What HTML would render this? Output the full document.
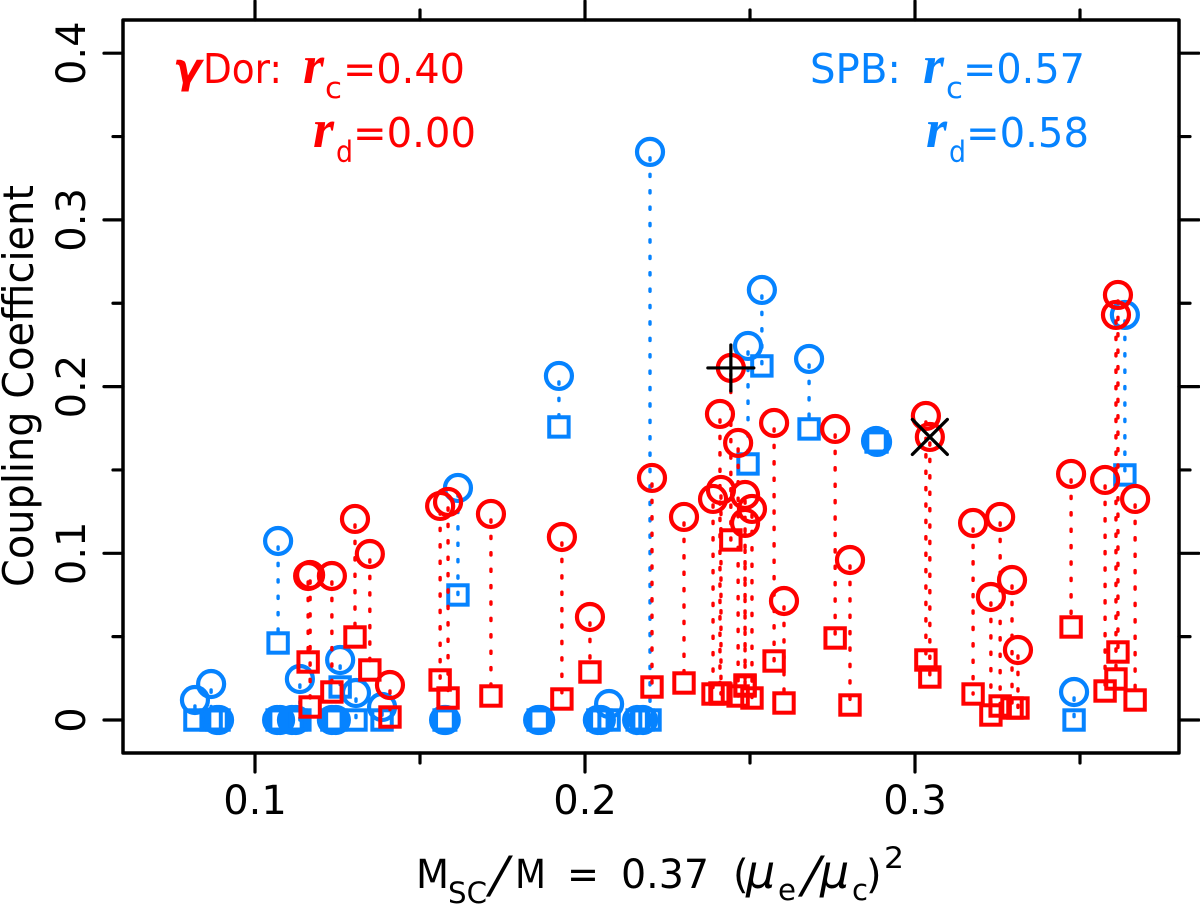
<!DOCTYPE html>
<html>
<head>
<meta charset="utf-8">
<title>Coupling Coefficient chart</title>
<style>
html,body{margin:0;padding:0;background:#fff;width:1200px;height:905px;overflow:hidden}
svg{display:block}
text{font-family:"DejaVu Sans","Liberation Sans",sans-serif}
.k{fill:#000;font-size:40px}
.r{fill:#ff0000;font-size:41px}
.b{fill:#0683ff;font-size:41px}
.s{font-size:29px}
.i{font-family:"Liberation Serif","DejaVu Serif",serif;font-style:italic;font-weight:bold;font-size:54px}
.m{font-style:italic;font-size:46px}
.g{font-style:italic;font-weight:bold;font-size:42px}
.sl{font-size:50px}
</style>
</head>
<body>
<svg id="chart" width="1200" height="905" viewBox="0 0 1200 905" xmlns="http://www.w3.org/2000/svg">
  <g id="ticks"></g>
  <g id="marks"></g>
  <rect x="123" y="20" width="1056" height="733" fill="none" stroke="#000" stroke-width="3.5" stroke-linejoin="round"/>
  <g id="labels"></g>

  <g>
    <text class="k" style="font-size:42px" transform="translate(33,587) rotate(-90)" textLength="402" lengthAdjust="spacingAndGlyphs">Coupling Coefficient</text>
  </g>

  <g>
    <text class="k" x="416" y="888" textLength="33" lengthAdjust="spacingAndGlyphs">M</text>
    <text class="k s" x="448" y="903" textLength="39" lengthAdjust="spacingAndGlyphs">SC</text>
    <text class="k sl" transform="translate(487,892) skewX(-14)">/</text>
    <text class="k" x="515" y="888" textLength="31" lengthAdjust="spacingAndGlyphs">M</text>
    <text class="k" x="567" y="888" textLength="32" lengthAdjust="spacingAndGlyphs">=</text>
    <text class="k" x="621" y="888" textLength="88" lengthAdjust="spacingAndGlyphs">0.37</text>
    <text class="k" x="733" y="888">(</text>
    <text class="k m" x="746" y="888">μ</text>
    <text class="k s" x="778" y="900" textLength="18" lengthAdjust="spacingAndGlyphs">e</text>
    <text class="k sl" transform="translate(799,892) skewX(-14)">/</text>
    <text class="k m" x="820" y="888">μ</text>
    <text class="k s" x="852" y="900" textLength="16" lengthAdjust="spacingAndGlyphs">c</text>
    <text class="k" x="866" y="888">)</text>
    <text class="k s" x="884" y="868" textLength="20" lengthAdjust="spacingAndGlyphs">2</text>
  </g>

  <g>
    <text class="r g" x="173" y="83">γ</text>
    <text class="r" x="203" y="83" textLength="79" lengthAdjust="spacingAndGlyphs">Dor:</text>
    <text class="r i" x="303" y="83">r</text>
    <text class="r s" x="325" y="98" textLength="17" lengthAdjust="spacingAndGlyphs">c</text>
    <text class="r" x="343" y="83" textLength="122" lengthAdjust="spacingAndGlyphs">=0.40</text>
    <text class="r i" x="313" y="147">r</text>
    <text class="r s" x="336" y="162" textLength="17" lengthAdjust="spacingAndGlyphs">d</text>
    <text class="r" x="353" y="147" textLength="123" lengthAdjust="spacingAndGlyphs">=0.00</text>
  </g>

  <g>
    <text class="b" x="810" y="83" textLength="91" lengthAdjust="spacingAndGlyphs">SPB:</text>
    <text class="b i" x="923" y="83">r</text>
    <text class="b s" x="946" y="98" textLength="17" lengthAdjust="spacingAndGlyphs">c</text>
    <text class="b" x="963" y="83" textLength="122" lengthAdjust="spacingAndGlyphs">=0.57</text>
    <text class="b i" x="926" y="147">r</text>
    <text class="b s" x="949" y="162" textLength="17" lengthAdjust="spacingAndGlyphs">d</text>
    <text class="b" x="966" y="147" textLength="123" lengthAdjust="spacingAndGlyphs">=0.58</text>
  </g>
</svg>
<script>
// x-axis value (M_SC/M), circle value (r_c), square value (r_d)
const redX = [0.1161,0.1167,0.1233,0.1303,0.1348,0.1409,0.1561,0.1585,0.1715,0.193,0.2015,0.2203,0.23,0.2388,0.2409,0.2412,0.2442,0.2464,0.2485,0.2506,0.2485,0.2573,0.2603,0.2758,0.2803,0.3033,0.3045,0.3176,0.3258,0.323,0.3294,0.3312,0.3473,0.3576,0.3615,0.3609,0.3667];
const redCircle = [0.0864,0.087,0.0864,0.1206,0.0996,0.021,0.1284,0.1308,0.1236,0.1098,0.0618,0.1452,0.1218,0.1326,0.1836,0.138,0.2112,0.1662,0.135,0.1266,0.1182,0.1782,0.0714,0.1746,0.096,0.1824,0.1698,0.1182,0.1218,0.0738,0.084,0.042,0.1476,0.144,0.255,0.243,0.1326];
const redSquare = [0.0348,0.0078,0.0168,0.0498,0.03,0.0018,0.024,0.0132,0.0144,0.0126,0.0288,0.0198,0.0222,0.0156,0.0162,0.0156,0.108,0.0144,0.0204,0.0132,0.021,0.0354,0.0102,0.0492,0.009,0.036,0.0258,0.0156,0.0084,0.003,0.0072,0.0072,0.0558,0.0174,0.0408,0.0246,0.012];

const blueX = [0.0818,0.0867,0.0885,0.0891,0.107,0.1067,0.1076,0.1112,0.1136,0.1124,0.1233,0.1245,0.1258,0.1306,0.1385,0.1573,0.1578,0.1615,0.1858,0.1864,0.1921,0.2039,0.2048,0.2073,0.2158,0.2176,0.2197,0.2494,0.2536,0.2679,0.2882,0.2885,0.3482,0.3636];
const blueCircle = [0.012,0.0216,0,0,0.1074,0,0,0,0.0246,0,0,0,0.036,0.0162,0.0078,0,0,0.1392,0,0,0.2064,0,0,0.0096,0,0,0.3408,0.2244,0.258,0.2166,0.1674,0.1668,0.0168,0.243];
const blueSquare = [0,0,0,0,0.0462,0,0,0,0,0,0,0,0.0198,0,0,0,0,0.075,0,0,0.1758,0,0,0,0,0,0,0.1536,0.2124,0.1746,0.1668,0.1668,0,0.147];

// highlighted stars
const plusPoint = [0.2442, 0.2112];
const crossPoint = [0.3045, 0.1698];

const xMajorTicks = [0.1,0.2,0.3];
const xMinorTicks = [0.15,0.25,0.35];
const yMajorTicks = [0,0.1,0.2,0.3,0.4];
const yMinorTicks = [0.05,0.15,0.25,0.35];
const xTickLabels = ['0.1','0.2','0.3'];
const yTickLabels = ['0','0.1','0.2','0.3','0.4'];

const NS = 'http://www.w3.org/2000/svg';
const RED = '#ff0000';
const BLUE = '#0683ff';
function xScale(v){ return 255 + (v - 0.1) * 3300; }
function yScale(v){ return 720 - v * 1667; }
function make(tag, attrs, parent){
  const el = document.createElementNS(NS, tag);
  for (const k in attrs) el.setAttribute(k, attrs[k]);
  parent.appendChild(el);
  return el;
}

const tickG = document.getElementById('ticks');
const labelG = document.getElementById('labels');
const markG = document.getElementById('marks');

function tickLine(x1, y1, x2, y2){
  const t = make('line', {x1:x1, y1:y1, x2:x2, y2:y2, stroke:'#000', 'stroke-width':3.2, 'stroke-linecap':'round'}, tickG);
  
  
}
xMajorTicks.forEach(function(v){
  const x = xScale(v);
  tickLine(x, 753, x, 772);
  tickLine(x, 20, x, 1);
});
xMinorTicks.forEach(function(v){
  const x = xScale(v);
  tickLine(x, 753, x, 763);
  tickLine(x, 20, x, 10);
});
yMajorTicks.forEach(function(v){
  const y = yScale(v);
  tickLine(123, y, 104, y);
  tickLine(1179, y, 1199, y);
});
yMinorTicks.forEach(function(v){
  const y = yScale(v);
  tickLine(123, y, 113, y);
  tickLine(1179, y, 1190, y);
});

xMajorTicks.forEach(function(v, i){
  const t = make('text', {x:xScale(v), y:814, 'text-anchor':'middle', 'class':'k'}, labelG);
  t.textContent = xTickLabels[i];
  
  
});
yMajorTicks.forEach(function(v, i){
  const t = make('text', {transform:'translate(85,' + yScale(v) + ') rotate(-90)', 'text-anchor':'middle', 'class':'k'}, labelG);
  t.textContent = yTickLabels[i];
  
  
});

function drawSeries(xs, circles, squares, color, seriesName){
  const g = make('g', {}, markG);
  
  
  xs.forEach(function(v, i){
    const x = xScale(v), yc = yScale(circles[i]), ys = yScale(squares[i]);
    if (Math.abs(yc - ys) > 1) {
      const d = make('line', {x1:x, y1:yc, x2:x, y2:ys, stroke:color, 'stroke-width':3.4, 'stroke-linecap':'round', 'stroke-dasharray':'2.2 14.2', 'stroke-dashoffset':'-6'}, g);
      
      
    }
    const sq = make('rect', {x:x-9.7, y:ys-9.7, width:19.4, height:19.4, fill:'none', stroke:color, 'stroke-width':4}, g);
    
    
    const c = make('circle', {cx:x, cy:yc, r:13, fill:'none', stroke:color, 'stroke-width':4.2}, g);
    
    
  });
}
drawSeries(blueX, blueCircle, blueSquare, BLUE, 'spb-series');
drawSeries(redX, redCircle, redSquare, RED, 'gamma-dor-series');

const plusX = xScale(plusPoint[0]), plusY = yScale(plusPoint[1]);
const plus = make('path', {d:'M' + (plusX-23) + ' ' + plusY + 'H' + (plusX+23) + 'M' + plusX + ' ' + (plusY-23) + 'V' + (plusY+23), stroke:'#000', 'stroke-width':3.2, 'stroke-linecap':'round', fill:'none'}, markG);



const crossX = xScale(crossPoint[0]), crossY = yScale(crossPoint[1]);
const cross = make('path', {d:'M' + (crossX-17.5) + ' ' + (crossY-17.5) + 'L' + (crossX+17.5) + ' ' + (crossY+17.5) + 'M' + (crossX+17.5) + ' ' + (crossY-17.5) + 'L' + (crossX-17.5) + ' ' + (crossY+17.5), stroke:'#000', 'stroke-width':3.2, 'stroke-linecap':'round', fill:'none'}, markG);


</script>
</body>
</html>
